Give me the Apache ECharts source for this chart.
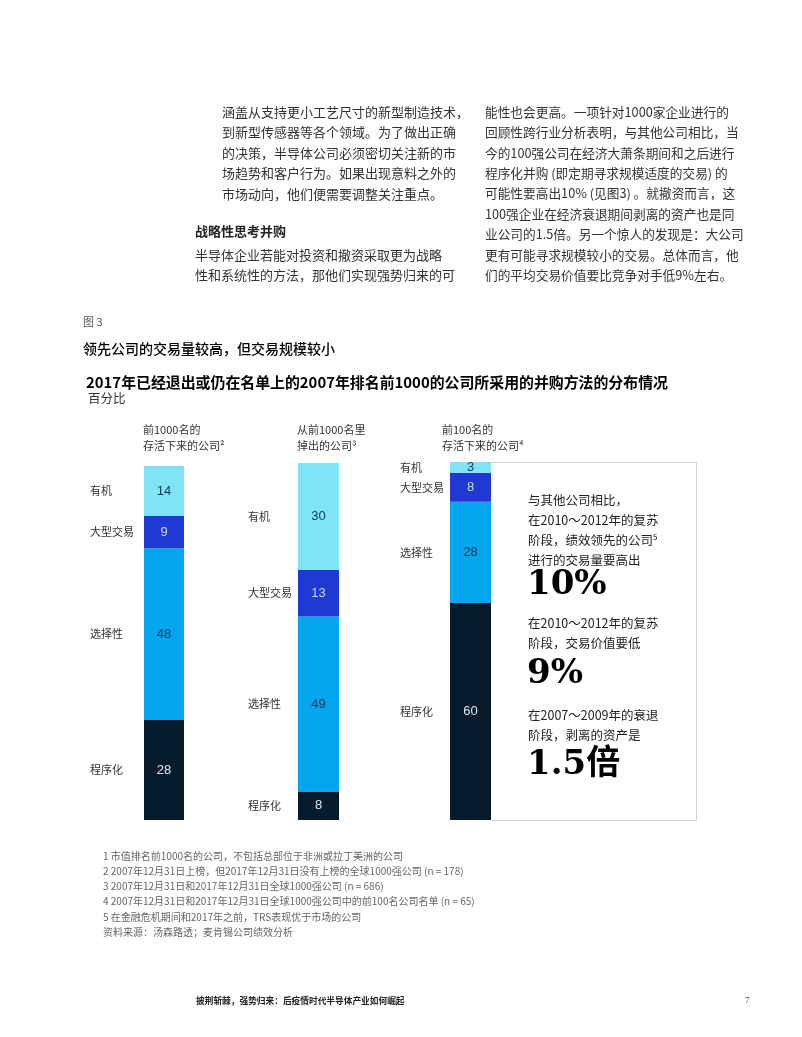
<!DOCTYPE html>
<html>
<head>
<meta charset="utf-8">
<script src="https://cdn.jsdelivr.net/npm/echarts@6/dist/echarts.min.js"></script>
<style>
html,body{margin:0;padding:0;background:#fff;}
#chart{width:802px;height:1037px;}
</style>
</head>
<body>
<div id="chart"></div>
<script>
// ---- data ----
const categories = ['程序化', '选择性', '大型交易', '有机']; // bottom to top
const groupTitles = ['前1000名的\n存活下来的公司²', '从前1000名里\n掉出的公司³', '前100名的\n存活下来的公司⁴'];
const survivorsTop1000 = [28, 48, 9, 14];
const droppedTop1000 = [8, 49, 13, 30];
const survivorsTop100 = [60, 28, 8, 3];
const groupValues = [survivorsTop1000, droppedTop1000, survivorsTop100];

const bodyLeft1 = ['涵盖从支持更小工艺尺寸的新型制造技术，', '到新型传感器等各个领域。为了做出正确', '的决策，半导体公司必须密切关注新的市', '场趋势和客户行为。如果出现意料之外的', '市场动向，他们便需要调整关注重点。'];
const bodyLeftHead = '战略性思考并购';
const bodyLeft2 = ['半导体企业若能对投资和撤资采取更为战略', '性和系统性的方法，那他们实现强势归来的可'];
const bodyRight = ['能性也会更高。一项针对1000家企业进行的', '回顾性跨行业分析表明，与其他公司相比，当', '今的100强公司在经济大萧条期间和之后进行', '程序化并购 (即定期寻求规模适度的交易) 的', '可能性要高出10% (见图3) 。就撤资而言，这', '100强企业在经济衰退期间剥离的资产也是同', '业公司的1.5倍。另一个惊人的发现是：大公司', '更有可能寻求规模较小的交易。总体而言，他', '们的平均交易价值要比竞争对手低9%左右。'];
const footnotes = ['1 市值排名前1000名的公司，不包括总部位于非洲或拉丁美洲的公司', '2 2007年12月31日上榜，但2017年12月31日没有上榜的全球1000强公司 (n = 178)', '3 2007年12月31日和2017年12月31日全球1000强公司 (n = 686)', '4 2007年12月31日和2017年12月31日全球1000强公司中的前100名公司名单 (n = 65)', '5 在金融危机期间和2017年之前，TRS表现优于市场的公司', '资料来源：汤森路透；麦肯锡公司绩效分析'];
const calloutText1 = ['与其他公司相比，', '在2010～2012年的复苏', '阶段，绩效领先的公司⁵', '进行的交易量要高出'];
const calloutBig1 = '10%';
const calloutText2 = ['在2010～2012年的复苏', '阶段，交易价值要低'];
const calloutBig2 = '9%';
const calloutText3 = ['在2007～2009年的衰退', '阶段，剥离的资产是'];
const calloutBig3 = '1.5倍';

// ---- styles ----
const CJK = '"Noto Sans CJK SC", "Noto Sans", sans-serif';
const BIG = '"DejaVu Serif", "Noto Sans CJK SC", serif';
const segColors = ['#061B2C', '#05A5EF', '#2139D4', '#80E4F8'];
const segLabelColors = ['#E3E8EE', '#0C3A66', '#C9D8FF', '#0C3C55'];
const grids = [
  {left: 144, top: 466, width: 40, height: 354},
  {left: 298, top: 463, width: 41, height: 357},
  {left: 450, top: 462, width: 41, height: 358}
];
const nameOffsets = [-54, -50, -50];
const headerX = [143, 297, 442];

const chart = echarts.init(document.getElementById('chart'), null, {renderer: 'canvas'});

const xAxes = [], yAxes = [], series = [];
groupValues.forEach((vals, g) => {
  const total = vals.reduce((a, b) => a + b, 0);
  xAxes.push({gridIndex: g, type: 'category', data: ['g' + g], show: false});
  yAxes.push({gridIndex: g, type: 'value', min: 0, max: total, show: false});
  categories.forEach((cat, j) => {
    series.push({
      type: 'bar', name: cat, xAxisIndex: g, yAxisIndex: g, stack: 'v' + g,
      data: [vals[j]], barWidth: '100%', barGap: '-100%',
      itemStyle: {color: segColors[j]},
      label: {show: true, position: 'inside', color: segLabelColors[j], fontSize: 13, fontFamily: '"Liberation Sans", Arial, sans-serif'},
      silent: true
    });
  });
  categories.forEach((cat, j) => {
    series.push({
      type: 'bar', name: cat + '_n', xAxisIndex: g, yAxisIndex: g, stack: 'n' + g,
      data: [vals[j]], barWidth: '100%', barGap: '-100%',
      itemStyle: {color: 'rgba(0,0,0,0)'},
      label: {show: true, position: 'insideLeft', distance: 0, offset: [nameOffsets[g], 0], formatter: cat, color: '#333', fontSize: 11, fontFamily: CJK},
      silent: true, z: 1
    });
  });
});

const graphic = [];
function T(x, y, text, size, opt) {
  opt = opt || {};
  graphic.push({
    type: 'text', x: x, y: y, silent: true,
    style: {
      text: text, fill: opt.color || '#333', fontSize: size,
      fontFamily: opt.family || CJK, fontWeight: opt.weight || 'normal',
      align: opt.align || 'left', verticalAlign: opt.va || 'middle',
      lineHeight: opt.lh || size * 1.3
    }
  });
}
const lh = 20.4;
bodyLeft1.forEach((t, i) => T(222, 112 + lh * i, t, 13, {color: '#333'}));
T(195, 112 + lh * 6 - 3, bodyLeftHead, 13, {color: '#222', weight: 'bold'});
bodyLeft2.forEach((t, i) => T(195, 112 + lh * (7 + i), t, 13, {color: '#333'}));
bodyRight.forEach((t, i) => T(485, 112 + lh * i, t, 12.7, {color: '#333'}));

T(83, 322, '图 3', 11, {color: '#555'});
T(83, 349, '领先公司的交易量较高，但交易规模较小', 14, {color: '#000', weight: 500});
T(86, 382, '2017年已经退出或仍在名单上的2007年排名前1000的公司所采用的并购方法的分布情况', 14.9, {color: '#000', weight: 'bold'});
T(88, 398, '百分比', 12.5, {color: '#333'});

groupTitles.forEach((t, g) => T(headerX[g], 438, t, 11, {color: '#333', lh: 16}));

// callout box
graphic.push({type: 'polyline', silent: true, shape: {points: [[491, 462.5], [696.5, 462.5], [696.5, 820.5], [491, 820.5]]}, style: {stroke: '#d4d4d4', lineWidth: 1, fill: null}});
calloutText1.forEach((t, i) => T(528, 500 + 20 * i, t, 12.5, {color: '#222'}));
T(527, 585, calloutBig1, 34, {color: '#000', weight: 'bold', family: BIG});
calloutText2.forEach((t, i) => T(528, 623 + 20 * i, t, 12.5, {color: '#222'}));
T(527, 674, calloutBig2, 34, {color: '#000', weight: 'bold', family: BIG});
calloutText3.forEach((t, i) => T(528, 715 + 20 * i, t, 12.5, {color: '#222'}));
T(527, 765, calloutBig3, 34, {color: '#000', weight: 'bold', family: BIG});

footnotes.forEach((t, i) => T(103, 856 + 15.2 * i, t, 10, {color: '#666'}));

T(196, 1001, '披荆斩棘，强势归来：后疫情时代半导体产业如何崛起', 8.7, {color: '#222', weight: 'bold'});
T(745, 1001, '7', 9, {color: '#444', family: '"Liberation Serif", serif'});

chart.setOption({
  animation: false,
  backgroundColor: '#ffffff',
  grid: grids.map(g => Object.assign({containLabel: false}, g)),
  xAxis: xAxes,
  yAxis: yAxes,
  series: series,
  graphic: graphic
});
</script>
</body>
</html>
